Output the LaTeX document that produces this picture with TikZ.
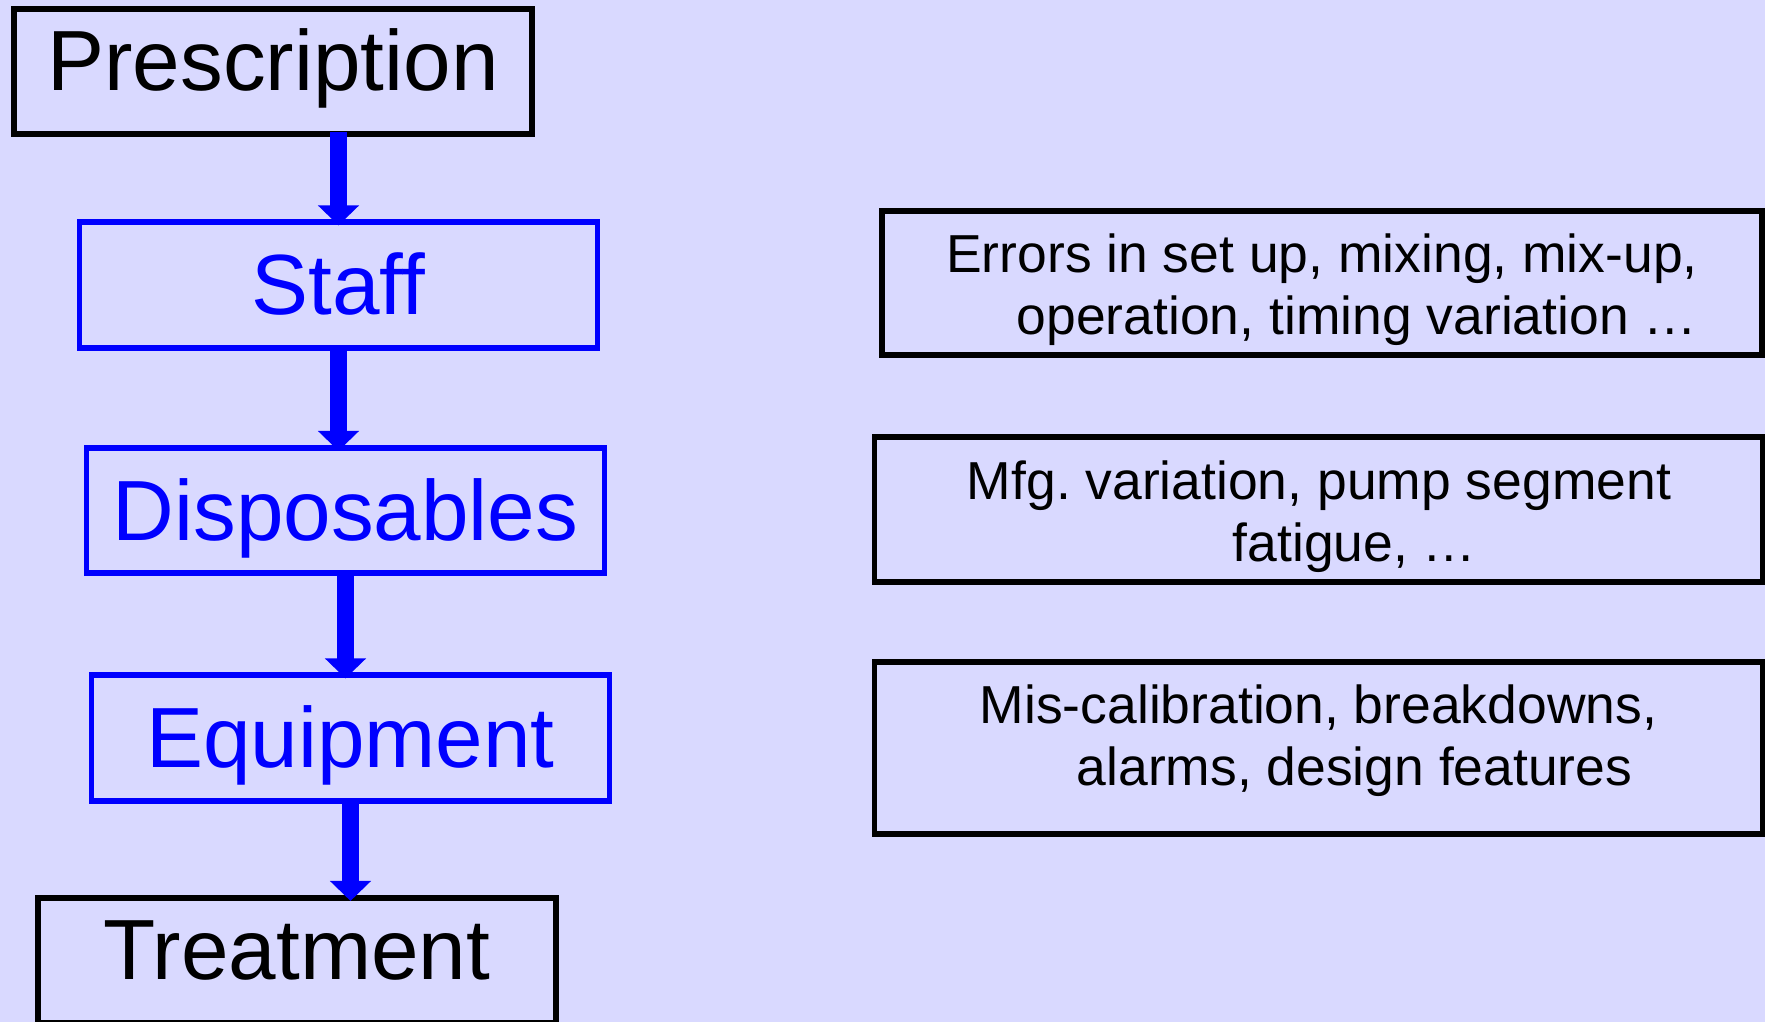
\documentclass[tikz,border=0pt]{standalone}
\usepackage{fontspec}
\setmainfont{Liberation Sans}
\usetikzlibrary{arrows.meta}
\definecolor{slidebg}{RGB}{217,217,255}
\definecolor{stageblue}{RGB}{0,0,255}

\tikzset{
    stage/.style={shape=rectangle, draw=black, line width=1.6pt, inner sep=0pt,
        minimum width=5.18cm, minimum height=1.254cm,
        font=\fontsize{24.3pt}{29pt}\selectfont,
        text height=17.4pt, text depth=6.5pt},
    bluestage/.style={stage, draw=stageblue, text=stageblue, text depth=0.4pt},
    note/.style={shape=rectangle, draw=black, line width=1.6pt, inner sep=0pt},
    notetext/.style={align=center, inner sep=0pt,
        font=\fontsize{15.2pt}{17.64pt}\selectfont},
    flow/.style={draw=stageblue, line width=0.16cm,
        shorten <=-0.05cm, shorten >=-0.06cm,
        -{Triangle[width=0.40cm,length=0.2cm]}}
}

\begin{document}
\begin{tikzpicture}[x=0.01cm, y=-0.01cm]
    \useasboundingbox (0,0) rectangle (1765,1022);
    \clip (0,0) rectangle (1765,1022);
    \fill[slidebg] (0,0) rectangle (1765,1022);

    % process chain
    \node[stage] (presc) at (273, 71.5) {Prescription};
    \node[bluestage] (staff) at (338.5, 285) {Staff};
    \node[bluestage] (disp) at (345.5, 510.5) {Disposables};
    \node[bluestage] (equip) at (350.5, 738) {Equipment};
    \node[stage] (treat) at (297, 960.5) {Treatment};

    \path (presc.south -| staff.north) edge[flow] (staff.north);
    \path (staff.south) edge[flow] (staff.south |- disp.north);
    \path (disp.south) edge[flow] (disp.south |- equip.north);
    \path (equip.south) edge[flow] (equip.south |- treat.north);

    % sources of error
    \node[note, minimum width=8.80cm, minimum height=1.444cm] (staffnote) at (1322, 283) {};
    \node[notetext] (stafftext) at (1322, 290)
        {Errors in set up, mixing, mix-up,\\\hspace*{0.7cm}operation, timing variation …};

    \node[note, minimum width=8.874cm, minimum height=1.454cm] (dispnote) at (1318.5, 509.5) {};
    \node[notetext] (disptext) at (1319, 516.5)
        {Mfg.\ variation, pump segment\\\hspace*{0.71cm}fatigue, …};

    \node[note, minimum width=8.874cm, minimum height=1.724cm] (equipnote) at (1318.5, 748) {};
    \node[notetext] (equiptext) at (1318.5, 740.5)
        {Mis-calibration, breakdowns,\\\hspace*{0.72cm}alarms, design features};
\end{tikzpicture}
\end{document}
